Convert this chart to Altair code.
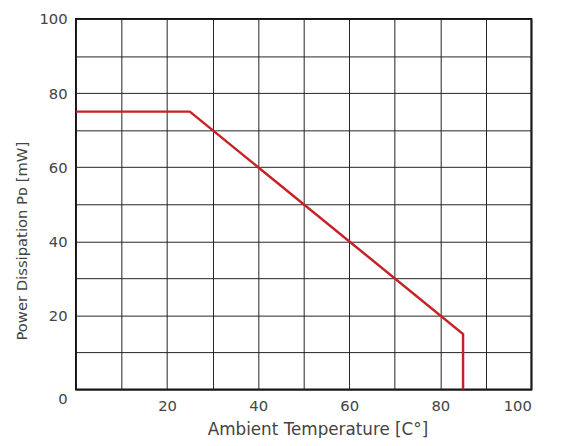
import altair as alt
import pandas as pd

temps = [0, 25, 85, 85]
power = [75, 75, 15, 0]
order = [0, 1, 2, 3]

df = pd.DataFrame({"t": temps, "p": power, "o": order})

FONT = "DejaVu Sans"
TXT = "#444"

chart = alt.Chart(df).mark_line(color="#c62127", strokeWidth=2.5).encode(
    x=alt.X("t:Q", scale=alt.Scale(domain=[0, 100], nice=False),
            axis=alt.Axis(values=list(range(0, 101, 10)),
                          labelExpr="(datum.value % 20 == 0 && datum.value > 0) ? datum.label : ''",
                          title="Ambient Temperature [C°]",
                          grid=True, gridColor="#222", gridWidth=1, gridOpacity=1,
                          ticks=False, domain=False, labelPadding=9,
                          labelFont=FONT, labelFontSize=15, labelColor=TXT,
                          titleFont=FONT, titleFontSize=17, titleFontWeight="normal",
                          titleColor=TXT, titlePadding=9, titleX=245)),
    y=alt.Y("p:Q", scale=alt.Scale(domain=[0, 100], nice=False),
            axis=alt.Axis(values=list(range(0, 101, 10)),
                          labelExpr="(datum.value % 20 == 0) ? datum.label : ''",
                          title="Power Dissipation Pᴅ [mW]",
                          grid=True, gridColor="#222", gridWidth=1, gridOpacity=1,
                          ticks=False, domain=False, labelPadding=9,
                          labelOffset={"condition": {"test": "datum.value == 0", "value": 9}, "value": 0},
                          labelFont=FONT, labelFontSize=15, labelColor=TXT,
                          titleFont=FONT, titleFontSize=15, titleFontWeight="normal",
                          titleColor=TXT, titlePadding=10, titleY=225)),
    order="o:O",
).properties(
    width=462, height=376,
    autosize=alt.AutoSizeParams(type="none"),
    padding={"left": 69, "top": 8, "right": 25, "bottom": 46},
).configure_view(stroke="#111", strokeWidth=2)

chart.save("out.html", embed_options={"renderer": "svg", "actions": False})
